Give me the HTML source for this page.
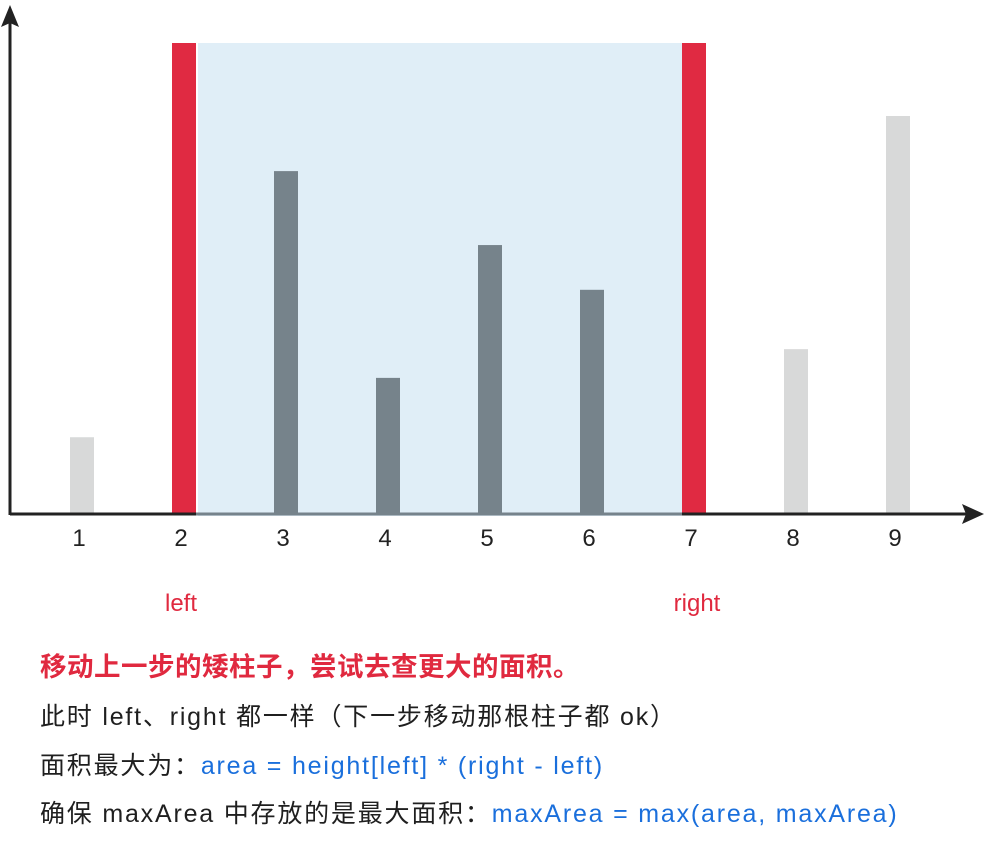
<!DOCTYPE html>
<html><head><meta charset="utf-8"><style>
body{margin:0;background:#fff;width:987px;height:850px;overflow:hidden;font-family:"Liberation Sans","Noto Sans CJK SC",sans-serif}
svg{position:absolute;left:0;top:0}
.t{position:absolute;left:40px;font-size:25px;letter-spacing:1.8px;color:#1f1f1f;white-space:nowrap;line-height:30px}
.b{color:#1a6fdc}
</style></head><body>
<svg width="987" height="850">
<g id="g"></g>
</svg>
<div class="t" style="top:652px;color:#e0293f;font-weight:bold;font-size:26.5px;letter-spacing:0.5px">移动上一步的矮柱子，尝试去查更大的面积。</div>
<div class="t" style="top:702px">此时 left、right 都一样（下一步移动那根柱子都 ok）</div>
<div class="t" style="top:751px">面积最大为：<span class="b">area = height[left] * (right - left)</span></div>
<div class="t" style="top:799px">确保 maxArea 中存放的是最大面积：<span class="b">maxArea = max(area, maxArea)</span></div>
<script>
const categories=["1","2","3","4","5","6","7","8","9"];
const heights=[1.63,10,7.28,2.89,5.71,4.76,10,3.5,8.45];
const leftIndex=1;
const rightIndex=6;
const NS="http://www.w3.org/2000/svg";
const g=document.getElementById('g');
const base=514,unit=47.1,x0=70,step=102,bw=24;
function xs(i){return x0+i*step;}
function ys(v){return base-v*unit;}
function mk(t,a){const e=document.createElementNS(NS,t);for(const k in a)e.setAttribute(k,a[k]);g.appendChild(e);return e;}
const regionTop=ys(Math.min(heights[leftIndex],heights[rightIndex]));
let r=mk('rect',{x:xs(leftIndex)+bw+2,y:regionTop,width:xs(rightIndex)-xs(leftIndex)-bw-2,height:base-regionTop+2,fill:'#e0eef7'});


categories.forEach((c,i)=>{
  let col=i===leftIndex||i===rightIndex?'#e02a42':(i>leftIndex&&i<rightIndex?'#76838b':'#d8d9d9');
  const b=mk('rect',{x:xs(i),y:ys(heights[i]),width:bw,height:heights[i]*unit,fill:col});
  
  
  const t=mk('text',{x:xs(i)+bw/2-3,y:546,'font-size':'24','text-anchor':'middle',fill:'#222','font-family':'Liberation Sans'});
  t.textContent=c;
  
  
});
let ax=mk('line',{x1:10,y1:514,x2:972,y2:514,stroke:'#222','stroke-width':3});


mk('line',{x1:xs(leftIndex)+bw,y1:514,x2:xs(rightIndex),y2:514,stroke:'#76838b','stroke-width':3});
mk('polygon',{points:'984,514 962,504 966,514 962,524',fill:'#222'});
let ay=mk('line',{x1:10,y1:515,x2:10,y2:20,stroke:'#222','stroke-width':3});


mk('polygon',{points:'10,5 1,27 10,23 19,27',fill:'#222'});
[['left',leftIndex,-3],['right',rightIndex,3]].forEach(([n,i,d])=>{
  const t=mk('text',{x:xs(i)+bw/2+d,y:611,'font-size':'24','text-anchor':'middle',fill:'#e0293f','font-family':'Liberation Sans'});
  t.textContent=n;
  
  
});
</script>
</body></html>
